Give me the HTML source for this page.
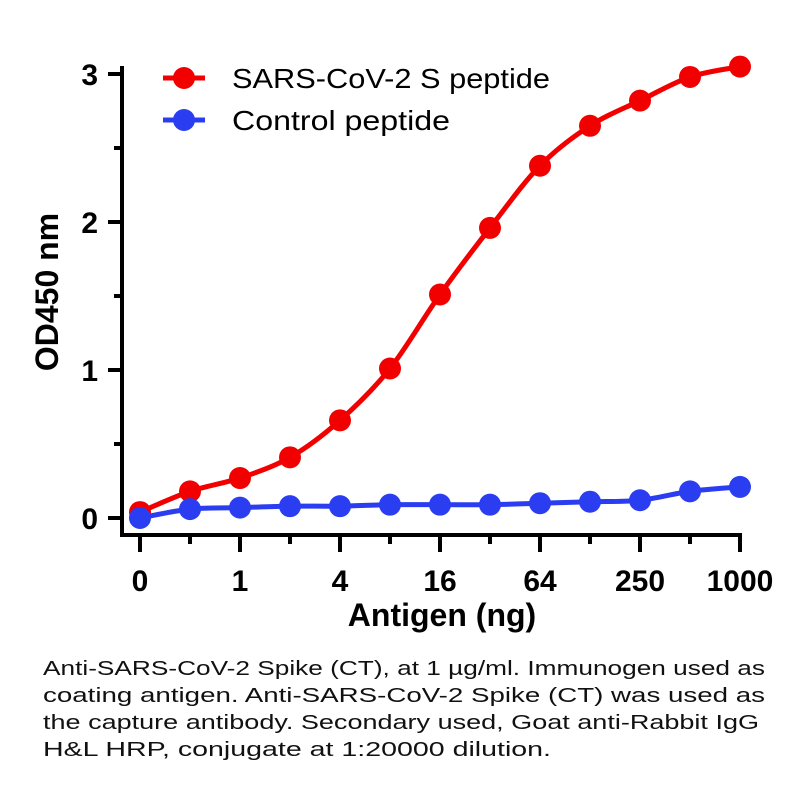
<!DOCTYPE html>
<html><head><meta charset="utf-8"><style>
body{margin:0;background:#fff;width:810px;height:810px;overflow:hidden;font-family:"Liberation Sans",sans-serif}
</style></head><body>
<svg id="chart" width="810" height="810" style="position:absolute;left:0;top:0" font-family="Liberation Sans, sans-serif"></svg>
<script>
const xLabels=["0","1","4","16","64","250","1000"];
const yTicks=[0,1,2,3];
const redVals=[0.04,0.18,0.27,0.41,0.66,1.01,1.51,1.96,2.38,2.65,2.82,2.98,3.05];
const blueVals=[0.0,0.06,0.07,0.08,0.08,0.09,0.09,0.09,0.10,0.11,0.12,0.18,0.21];
const NS="http://www.w3.org/2000/svg";
const svg=document.getElementById('chart');
function xs(i){return 140+i*50;}
function ys(v){return 518-v*148;}
function mk(t,a,p){const e=document.createElementNS(NS,t);for(const k in a)e.setAttribute(k,a[k]);(p||svg).appendChild(e);return e;}
let e=mk('line',{x1:122,y1:66,x2:122,y2:537,stroke:'#000','stroke-width':4});


e=mk('line',{x1:120,y1:535,x2:742,y2:535,stroke:'#000','stroke-width':4});


yTicks.forEach(v=>{
 mk('line',{x1:108,y1:ys(v),x2:122,y2:ys(v),stroke:'#000','stroke-width':4});
 const t=mk('text',{x:98,y:ys(v)+11,'text-anchor':'end','font-size':30,'font-weight':'bold'});
 t.textContent=v;
 
 
 if(v<3) mk('line',{x1:114,y1:ys(v+0.5),x2:122,y2:ys(v+0.5),stroke:'#000','stroke-width':4});
});
for(let i=0;i<13;i++){
 const major=i%2==0;
 mk('line',{x1:xs(i),y1:535,x2:xs(i),y2:major?552:544,stroke:'#000','stroke-width':4});
}
xLabels.forEach((l,j)=>{
 const t=mk('text',{x:xs(j*2),y:591,'text-anchor':'middle','font-size':30,'font-weight':'bold'});
 t.textContent=l;
 
 
});
let t=mk('text',{x:442,y:626,'text-anchor':'middle','font-size':32,'font-weight':'bold'});
t.textContent='Antigen (ng)';


t=mk('text',{x:0,y:0,'text-anchor':'middle','font-size':32,'font-weight':'bold',transform:'translate(58,292) rotate(-90)'});
t.textContent='OD450 nm';


function smooth(pts){
 let d='M'+pts[0][0]+','+pts[0][1];
 for(let i=0;i<pts.length-1;i++){
  const p0=pts[i-1]||pts[i],p1=pts[i],p2=pts[i+1],p3=pts[i+2]||p2;
  const c1=[p1[0]+(p2[0]-p0[0])/6,p1[1]+(p2[1]-p0[1])/6];
  const c2=[p2[0]-(p3[0]-p1[0])/6,p2[1]-(p3[1]-p1[1])/6];
  d+=' C'+c1+' '+c2+' '+p2;
 }
 return d;
}
function series(vals,col,name){
 const p=mk('path',{d:smooth(vals.map((v,i)=>[xs(i),ys(v)])),fill:'none',stroke:col,'stroke-width':5,'stroke-linejoin':'round'});
 
 
 vals.forEach((v,i)=>{
  const c=mk('circle',{cx:xs(i),cy:ys(v),r:11,fill:col});
  
  
 });
}
series(redVals,'#f20000','sars-cov-2');
series(blueVals,'#2b3df0','control');
function legend(y,col,label,name,len){
 const g=mk('g',{});
 
 
 mk('line',{x1:163,y1:y,x2:205,y2:y,stroke:col,'stroke-width':5},g);
 mk('circle',{cx:184,cy:y,r:11,fill:col},g);
 const t=mk('text',{x:232,y:y+10,'font-size':28,textLength:len,lengthAdjust:'spacingAndGlyphs'},g);
 t.textContent=label;
}
legend(78,'#f20000','SARS-CoV-2 S peptide','legend-sars',318);
legend(120,'#2b3df0','Control peptide','legend-control',218);
const capLines=["Anti-SARS-CoV-2 Spike (CT), at 1 µg/ml. Immunogen used as","coating antigen. Anti-SARS-CoV-2 Spike (CT) was used as","the capture antibody. Secondary used, Goat anti-Rabbit IgG","H&L HRP, conjugate at 1:20000 dilution."];
const capLens=[722,722,716,508];
const cg=mk('g',{});


capLines.forEach((l,i)=>{
 const tt=mk('text',{x:43,y:675+i*27,'font-size':20,fill:'#111',textLength:capLens[i],lengthAdjust:'spacingAndGlyphs'},cg);
 tt.textContent=l;
});
</script>
</body></html>
